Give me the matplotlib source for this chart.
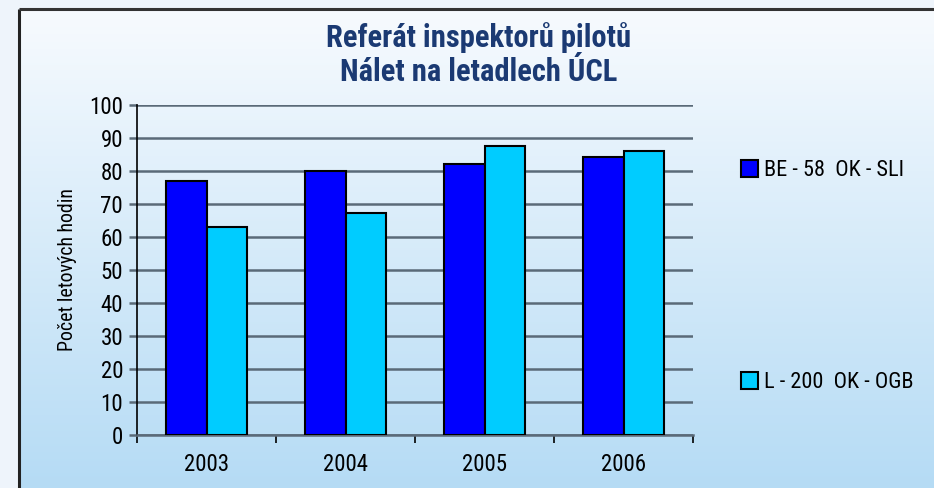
import numpy as np
import matplotlib
matplotlib.use("Agg")
import matplotlib.pyplot as plt
from matplotlib import font_manager
from matplotlib.font_manager import FontProperties
from matplotlib.patches import Patch
from matplotlib.lines import Line2D

years = ["2003", "2004", "2005", "2006"]
series_names = ["BE - 58  OK - SLI", "L - 200  OK - OGB"]
be58 = [77.1, 80.0, 82.0, 84.3]
l200 = [63.0, 67.3, 87.5, 86.1]
title_lines = ["Referát inspektorů pilotů", "Nálet na letadlech ÚCL"]
ylabel = "Počet letových hodin"
yticks = [0, 10, 20, 30, 40, 50, 60, 70, 80, 90, 100]


def find_font(bold):
    best = None
    for f in font_manager.fontManager.ttflist:
        fn = f.fname.lower()
        if not ('narrow' in fn or 'condensed' in fn or f.stretch in ('condensed', 'semi-condensed')):
            continue
        if 'italic' in fn or 'oblique' in fn or f.style != 'normal':
            continue
        is_bold = (f.weight in ('bold', 700) or 'bold' in fn)
        if is_bold != bold:
            continue
        score = 0
        if 'liberation' in fn:
            score = 3
        elif 'roboto' in fn:
            score = 2
        elif 'dejavu' in fn:
            score = 1
        if best is None or score > best[0]:
            best = (score, f.fname)
    return best[1] if best else None


reg_path = find_font(False)
bold_path = find_font(True)
fp_reg = FontProperties(fname=reg_path) if reg_path else FontProperties(family='DejaVu Sans', stretch='condensed')
fp_bold = FontProperties(fname=bold_path) if bold_path else FontProperties(family='DejaVu Sans', weight='bold', stretch='condensed')


def fp(base, size):
    p = base.copy()
    p.set_size(size)
    return p


W, H = 934, 488
fig = plt.figure(figsize=(W / 100, H / 100), dpi=100)

# background
bg = fig.add_axes([0, 0, 1, 1], zorder=-10)
bg.set_axis_off()
top = np.array([0.975, 0.985, 0.997])
bot = np.array([0.71, 0.86, 0.96])
t = np.linspace(0, 1, 256)[:, None]
grad = top[None, :] * (1 - t) + bot[None, :] * t
img = np.repeat(grad[:, None, :], 4, axis=1)
bg.imshow(img, extent=[0, W, H, 0], aspect='auto')
bg.add_patch(plt.Rectangle((0, 0), 19, H, color='#eef4fb', zorder=2))
bg.add_patch(plt.Rectangle((0, 0), W, 9, color='#eef4fb', zorder=2))
bg.add_line(Line2D([19, 19], [9, H], color='#222222', lw=2.2, zorder=3, solid_capstyle='butt'))
bg.add_line(Line2D([19, W], [9, 9], color='#333333', lw=2.2, zorder=3, solid_capstyle='butt'))
bg.set_xlim(0, W)
bg.set_ylim(H, 0)

ax = fig.add_axes([137 / W, 1 - 435 / H, 556 / W, 330 / H])
ax.patch.set_alpha(0)
x = np.arange(len(years))
w = 0.29
c1, c2 = '#0000ff', '#00ccff'
ax.bar(x - w / 2, be58, w, color=c1, edgecolor='black', linewidth=1.5, zorder=3, label=series_names[0])
ax.bar(x + w / 2, l200, w, color=c2, edgecolor='black', linewidth=1.5, zorder=3, label=series_names[1])
ax.set_xlim(-0.5, len(years) - 0.5)
ax.set_ylim(0, 100)
ax.set_yticks(yticks)
ax.set_yticklabels([str(v) for v in yticks], fontproperties=fp(fp_reg, 16.5))
ax.set_xticks(x)
ax.set_xticklabels(years, fontproperties=fp(fp_reg, 16.5))
ax.set_xticks(np.arange(-0.5, len(years)), minor=True)
ax.tick_params(axis='x', which='major', length=0, pad=13)
ax.tick_params(axis='x', which='minor', length=6, width=1.2, color='black')
ax.tick_params(axis='y', length=6, width=1.8, color='#5a6a78', pad=4)
ax.grid(axis='y', color='#5a6a78', lw=1.8, zorder=1)
for s in ['top', 'right']:
    ax.spines[s].set_visible(False)
ax.spines['left'].set_color('black')
ax.spines['left'].set_linewidth(1.2)
ax.spines['bottom'].set_color('#5a6a78')
ax.spines['bottom'].set_linewidth(1.8)
ax.set_ylabel(ylabel, fontproperties=fp(fp_reg, 14.3), labelpad=9)

fig.text(479 / W, 1 - 38 / H, title_lines[0], ha='center', va='center',
         fontproperties=fp(fp_bold, 22), color='#1b3a73')
fig.text(479 / W, 1 - 72 / H, title_lines[1], ha='center', va='center',
         fontproperties=fp(fp_bold, 22), color='#1b3a73')

handles = [Patch(facecolor=c1, edgecolor='black', lw=1.5), Patch(facecolor=c2, edgecolor='black', lw=1.5)]
fig.legend(handles, series_names, loc='upper left', bbox_to_anchor=(730 / W, 1 - 149 / H),
           frameon=False, prop=fp(fp_reg, 16), labelspacing=8.6, handlelength=0.75, handleheight=0.75,
           handletextpad=0.3, borderpad=0)

fig.savefig("out.png", dpi=100)
